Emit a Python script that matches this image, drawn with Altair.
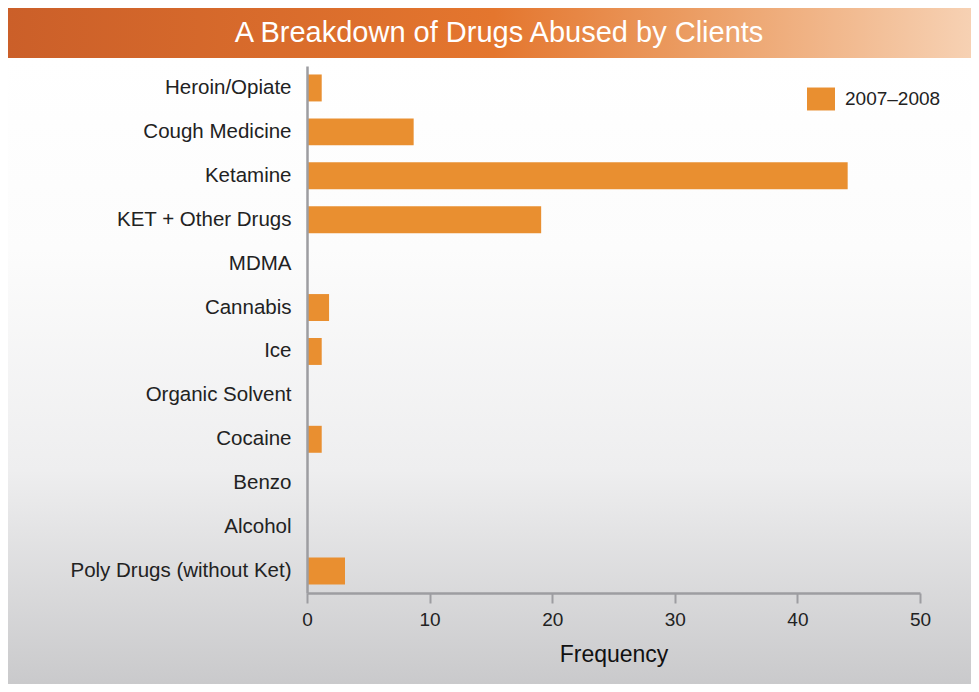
import altair as alt
import pandas as pd

drugs = ["Heroin/Opiate", "Cough Medicine", "Ketamine", "KET + Other Drugs", "MDMA",
         "Cannabis", "Ice", "Organic Solvent", "Cocaine", "Benzo", "Alcohol",
         "Poly Drugs (without Ket)"]
frequency = [1.2, 8.7, 44.1, 19.1, 0, 1.8, 1.2, 0, 1.2, 0, 0, 3.1]
period = "2007\u20132008"
x_ticks = [0, 10, 20, 30, 40, 50]
title_text = "A Breakdown of Drugs Abused by Clients"

FONT = "Liberation Sans"
W, H = 613, 527

df = pd.DataFrame({"drug": drugs, "freq": frequency, "period": [period] * len(drugs)})
one = pd.DataFrame({"t": [title_text]})

bg = alt.Chart(one).mark_rect(
    color=alt.LinearGradient(
        gradient="linear", x1=0, x2=0, y1=0, y2=1,
        stops=[alt.GradientStop(offset=0, color="#ffffff"),
               alt.GradientStop(offset=0.3, color="#fcfcfc"),
               alt.GradientStop(offset=0.65, color="#eeeeef"),
               alt.GradientStop(offset=1, color="#c8c8ca")])
).encode(x=alt.value(-300), x2=alt.value(W + 60), y=alt.value(-8), y2=alt.value(H + 100))

band = alt.Chart(one).mark_rect(
    color=alt.LinearGradient(
        gradient="linear", x1=0, x2=1, y1=0, y2=0,
        stops=[alt.GradientStop(offset=0, color="#cb5f29"),
               alt.GradientStop(offset=0.5, color="#e4762e"),
               alt.GradientStop(offset=0.7, color="#eb9c62"),
               alt.GradientStop(offset=1, color="#f7d3b6")])
).encode(x=alt.value(-300), x2=alt.value(W + 60), y=alt.value(-61), y2=alt.value(-8))

title = alt.Chart(one).mark_text(
    color="white", font=FONT, fontSize=29, align="center", baseline="alphabetic"
).encode(x=alt.value(192), y=alt.value(-24), text="t:N")

bars = alt.Chart(df).mark_bar().encode(
    y=alt.Y("drug:N", sort=drugs,
            scale=alt.Scale(paddingInner=0.386, paddingOuter=0.193),
            axis=alt.Axis(title=None, ticks=False, domainColor="#9d9da1", domainWidth=2.5,
                          labelFont=FONT, labelFontSize=20.5, labelColor="#222222",
                          labelPadding=16, labelLimit=300, zindex=1)),
    x=alt.X("freq:Q", scale=alt.Scale(domain=[0, 50], nice=False),
            axis=alt.Axis(title="Frequency", values=x_ticks, grid=False,
                          domainColor="#9d9da1", domainWidth=2.5,
                          tickColor="#9d9da1", tickWidth=2, tickSize=10,
                          labelFont=FONT, labelFontSize=19, labelColor="#222222",
                          labelPadding=7, labelFlush=False,
                          titleFont=FONT, titleFontSize=23,
                          titleFontWeight="normal", titleColor="#111111",
                          titlePadding=14, zindex=1)),
    color=alt.Color("period:N", scale=alt.Scale(range=["#e98f30"]),
                    legend=alt.Legend(title=None, orient="none", legendX=500, legendY=19,
                                      symbolType="M-1,-0.82L1,-0.82L1,0.82L-1,0.82Z",
                                      symbolSize=784, symbolStrokeWidth=0,
                                      labelFont=FONT, labelFontSize=19, labelColor="#222222",
                                      labelOffset=10, zindex=1))
)

chart = alt.layer(bg, band, title, bars).properties(
    width=W, height=H,
    autosize=alt.AutoSizeParams(type="none"),
    padding={"left": 299, "top": 58, "right": 51, "bottom": 91},
).configure_view(stroke=None)

chart.save("out.html", embed_options={"renderer": "svg", "actions": False})
